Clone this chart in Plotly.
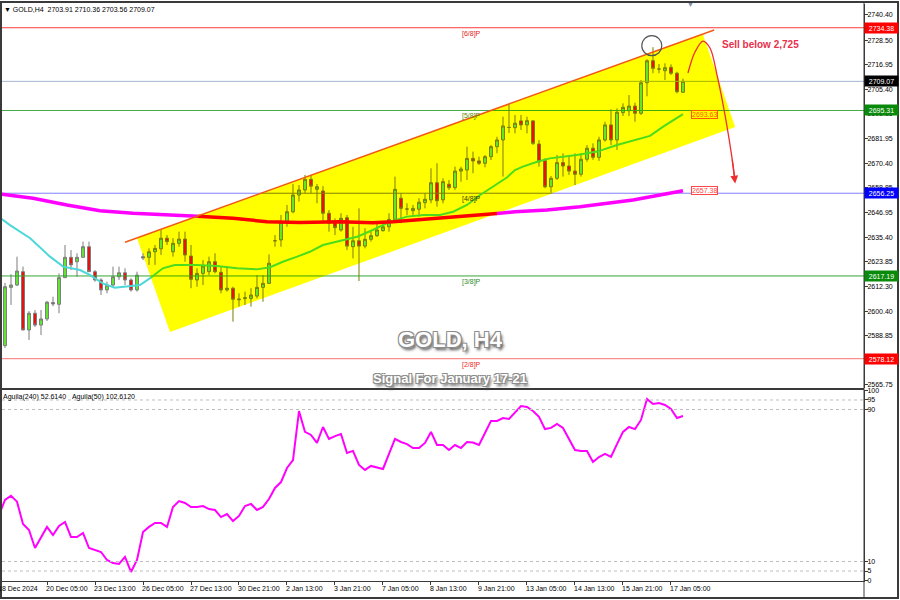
import plotly.graph_objects as go

# ---------------- data ----------------
opens = [2584.3, 2611.8, 2612.9, 2619.2, 2591.7, 2599.6, 2594.0, 2596.9, 2604.6, 2603.8,
         2616.4, 2626.0, 2623.9, 2626.0, 2631.0, 2619.2, 2615.3, 2610.6, 2612.9, 2616.8,
         2618.7, 2615.3, 2610.6, 2626.3, 2626.0, 2628.6, 2630.0, 2635.0, 2628.6, 2632.6,
         2634.6, 2626.6, 2615.3, 2618.4, 2619.2, 2623.9, 2618.9, 2610.6, 2611.4, 2606.3,
         2606.5, 2606.6, 2607.7, 2611.8, 2613.7, 2633.8, 2634.2, 2642.5, 2647.5, 2655.4,
         2657.8, 2662.8, 2658.1, 2657.3, 2646.8, 2642.3, 2638.9, 2644.7, 2631.0, 2633.8,
         2631.3, 2634.5, 2636.2, 2638.6, 2640.4, 2643.9, 2653.9, 2648.8, 2648.0, 2648.7,
         2651.8, 2653.1, 2661.2, 2653.1, 2660.5, 2658.9, 2666.7, 2667.2, 2672.7, 2671.5,
         2670.4, 2673.5, 2678.2, 2681.4, 2687.3, 2687.2, 2690.4, 2688.5, 2690.4, 2679.5,
         2671.6, 2659.3, 2663.3, 2670.7, 2669.1, 2666.7, 2665.2, 2672.3, 2677.5, 2673.2,
         2681.4, 2688.5, 2681.4, 2694.3, 2695.2, 2697.4, 2694.0, 2708.4, 2718.8, 2714.9,
         2714.1, 2715.7, 2712.9, 2703.91]
highs = [2613.9, 2618.0, 2626.3, 2621.6, 2600.6, 2601.1, 2601.1, 2605.4, 2607.4, 2618.4,
         2631.8, 2629.4, 2627.9, 2633.4, 2633.4, 2620.0, 2616.1, 2614.5, 2621.6, 2621.6,
         2620.8, 2616.1, 2619.2, 2627.9, 2630.2, 2631.8, 2638.9, 2636.5, 2635.0, 2638.1,
         2638.1, 2631.8, 2620.8, 2624.7, 2626.3, 2627.9, 2621.6, 2621.9, 2612.1, 2609.0,
         2609.8, 2611.4, 2617.6, 2617.6, 2627.4, 2636.5, 2646.0, 2650.7, 2660.6, 2660.1,
         2664.9, 2664.9, 2660.6, 2659.6, 2648.3, 2644.4, 2646.8, 2646.0, 2640.4, 2649.1,
         2639.7, 2638.1, 2642.8, 2642.8, 2646.8, 2664.1, 2656.2, 2651.5, 2650.7, 2653.9,
         2656.2, 2668.0, 2670.4, 2663.3, 2662.5, 2668.8, 2668.8, 2678.2, 2675.9, 2673.5,
         2674.3, 2679.0, 2682.9, 2692.4, 2698.4, 2693.2, 2693.2, 2692.4, 2690.8, 2681.4,
         2672.7, 2664.4, 2674.3, 2675.1, 2674.3, 2675.1, 2675.1, 2679.0, 2679.8, 2682.9,
         2690.0, 2695.9, 2696.3, 2698.7, 2702.6, 2699.0, 2709.7, 2719.5, 2725.2, 2717.3,
         2717.6, 2717.1, 2713.6, 2710.36]
lows = [2583.2, 2603.5, 2612.4, 2591.5, 2587.0, 2593.1, 2589.3, 2595.9, 2602.9, 2599.6,
        2616.2, 2620.0, 2616.8, 2625.7, 2619.1, 2614.5, 2608.2, 2609.0, 2612.1, 2615.3,
        2612.9, 2609.8, 2609.8, 2624.7, 2622.4, 2622.4, 2627.1, 2631.8, 2626.3, 2631.0,
        2623.9, 2611.4, 2612.1, 2612.9, 2617.6, 2618.4, 2609.0, 2609.8, 2595.6, 2602.7,
        2603.5, 2602.7, 2606.6, 2605.0, 2613.4, 2631.0, 2631.0, 2640.4, 2646.8, 2652.3,
        2656.2, 2656.2, 2651.5, 2642.8, 2638.1, 2636.5, 2638.1, 2629.4, 2625.5, 2614.8,
        2630.2, 2633.4, 2635.7, 2638.1, 2638.1, 2642.8, 2642.1, 2645.9, 2645.9, 2645.2,
        2649.1, 2651.5, 2649.9, 2651.5, 2657.8, 2657.8, 2661.7, 2662.5, 2665.7, 2669.6,
        2668.5, 2671.9, 2675.1, 2664.1, 2684.7, 2684.5, 2686.1, 2684.5, 2679.0, 2668.8,
        2658.6, 2656.5, 2662.5, 2664.1, 2664.9, 2660.1, 2664.1, 2671.1, 2672.0, 2671.5,
        2680.6, 2679.0, 2676.7, 2692.7, 2692.7, 2690.0, 2693.2, 2702.0, 2712.9, 2712.9,
        2709.7, 2712.1, 2703.4, 2703.56]
closes = [2612.1, 2612.9, 2619.5, 2591.7, 2599.6, 2594.0, 2596.9, 2604.8, 2604.0, 2616.4,
          2626.0, 2622.4, 2626.0, 2631.0, 2619.2, 2615.3, 2610.6, 2612.9, 2616.8, 2618.7,
          2615.3, 2610.6, 2617.6, 2625.7, 2628.6, 2630.2, 2635.0, 2633.4, 2632.6, 2634.6,
          2627.1, 2615.6, 2618.4, 2621.9, 2623.9, 2619.2, 2610.6, 2611.4, 2606.2, 2606.0,
          2606.9, 2608.2, 2611.8, 2613.7, 2623.2, 2633.8, 2642.5, 2647.5, 2655.4, 2657.8,
          2662.8, 2659.6, 2659.3, 2646.8, 2642.1, 2640.0, 2644.4, 2631.3, 2633.8, 2631.3,
          2634.5, 2636.2, 2638.9, 2640.4, 2643.9, 2658.1, 2649.1, 2648.8, 2649.1, 2652.0,
          2653.4, 2661.2, 2652.7, 2661.7, 2658.9, 2666.7, 2667.7, 2672.7, 2671.5, 2670.4,
          2673.5, 2678.2, 2681.4, 2688.0, 2687.3, 2689.3, 2688.5, 2690.5, 2679.8, 2671.1,
          2659.3, 2663.3, 2670.7, 2669.1, 2666.7, 2665.2, 2672.3, 2677.5, 2673.2, 2681.4,
          2688.5, 2681.4, 2694.5, 2696.8, 2697.4, 2694.0, 2708.4, 2718.8, 2715.2, 2714.9,
          2715.5, 2712.9, 2704.2, 2709.07]
bar_idx = list(range(len(opens)))

header_text = "\u25bc GOLD,H4\u00a0\u00a02703.91 2710.36 2703.56 2709.07"

# short moving average (cyan / green inside the channel)
ma_idx = [-0.83, 0.83, 4.2, 7.5, 9.7, 12.5, 14.2, 16.3, 18.3, 20.3, 22.5, 24.5, 26.3, 28.3,
          32.0, 35.3, 38.7, 42.0, 44.2, 46.3, 48.7, 50.8, 53.0, 55.3, 58.7, 61.3, 64.2, 67.0,
          69.7, 72.5, 74.7, 77.0, 79.2, 81.3, 83.7, 85.0, 86.3, 88.7, 90.8, 95.3, 98.7, 102.0,
          105.3, 107.5, 109.7, 112.0, 113.0]
ma_vals = [2644.6, 2641.2, 2635.0, 2626.3, 2621.6, 2620.0, 2617.6, 2613.7, 2611.6, 2612.1,
           2612.9, 2616.8, 2620.8, 2622.4, 2622.4, 2621.9, 2620.8, 2620.3, 2621.3, 2623.9,
           2626.3, 2628.6, 2631.8, 2633.4, 2635.7, 2638.9, 2642.8, 2645.2, 2646.0, 2646.0,
           2647.5, 2650.7, 2655.4, 2659.3, 2663.8, 2667.2, 2668.8, 2671.1, 2672.7, 2674.3,
           2675.9, 2679.0, 2681.4, 2683.3, 2687.7, 2691.6, 2693.63]
ma_last_label = "2693.63"

# long moving average (magenta / red inside the channel)
ema_idx = [-0.83, 4.67, 10.33, 15.83, 21.33, 27.0, 31.33, 38.0, 43.67, 49.17, 55.83, 61.33,
           64.67, 69.67, 75.33, 80.83, 85.0, 90.33, 95.83, 104.67, 113.0]
ema_vals = [2655.9, 2653.9, 2650.7, 2648.0, 2646.8, 2646.0, 2645.5, 2644.4, 2642.8, 2642.4,
            2642.8, 2642.3, 2642.8, 2643.9, 2645.2, 2646.4, 2647.5, 2648.3, 2649.9, 2653.1,
            2657.38]
ema_last_label = "2657.38"

# oscillator pane (starts one bar before the first candle)
ind_start = -1
ind_vals = [34.5, 42.4, 44.6, 41.5, 29.7, 26.6, 17.1, 22.9, 28.2, 23.9,
            28.7, 30.8, 22.9, 22.9, 25.0, 17.1, 16.0, 15.0, 10.8, 9.2,
            8.7, 12.4, 4.5, 10.8, 25.5, 28.2, 30.3, 30.3, 28.2, 38.7,
            41.8, 40.8, 38.7, 38.7, 39.2, 37.6, 37.1, 33.4, 35.0, 31.3,
            34.0, 39.2, 40.3, 37.1, 38.7, 42.9, 48.7, 51.8, 59.2, 63.4,
            89.2, 78.2, 76.6, 72.4, 80.8, 74.5, 76.0, 77.1, 67.1, 68.2,
            60.8, 58.2, 60.3, 59.7, 58.7, 66.6, 74.5, 72.9, 71.8, 69.7,
            69.7, 72.4, 78.2, 71.3, 71.3, 68.7, 71.3, 69.7, 72.9, 72.6,
            71.3, 77.6, 84.0, 84.0, 85.5, 85.0, 88.2, 91.8, 91.3, 89.2,
            86.1, 79.7, 80.3, 82.4, 80.3, 74.5, 68.7, 68.2, 68.2, 62.4,
            65.0, 66.6, 65.0, 71.8, 78.2, 80.8, 79.7, 84.5, 95.5, 92.9,
            93.4, 92.4, 90.3, 85.5, 86.6]
ind_label = "Aguila(240) 52.6140\u00a0\u00a0\u00a0Aguila(50) 102.6120"
ind_levels = [95, 90, 10, 5]
ind_ticks = [100, 95, 90, 10, 5, 0]

# horizontal price levels
level_prices = [2734.38, 2709.07, 2695.31, 2656.25, 2617.19, 2578.12]
level_line_colors = ['#ff3c3c', '#a3b5d0', '#42ac42', '#8080ff', '#35a535', '#ff7070']
level_tag_colors = ['#ff0000', '#000000', '#0a8a0a', '#0000ff', '#0a8a0a', '#ff0000']

murrey_labels = ['[6/8]P', '[5/8]P', '[4/8]P', '[3/8]P', '[2/8]P']
murrey_prices = [2734.38, 2695.31, 2656.25, 2617.19, 2578.12]
murrey_colors = ['#e81c1c', '#5c8c00', '#3a3a00', '#2a8c2a', '#f02828']

price_ticks = [2740.40, 2728.50, 2716.95, 2705.40, 2693.85, 2681.95, 2670.40, 2658.85,
               2646.95, 2635.40, 2623.85, 2612.30, 2600.40, 2588.85, 2577.30, 2565.75]

date_tick_idx = [-1, 7, 15, 23, 31, 39, 47, 55, 63, 71, 79, 87, 95, 103, 111]
date_tick_text = ["18 Dec 2024", "20 Dec 05:00", "23 Dec 13:00", "26 Dec 05:00",
                  "27 Dec 13:00", "30 Dec 21:00", "2 Jan 13:00", "3 Jan 21:00",
                  "7 Jan 05:00", "8 Jan 13:00", "9 Jan 21:00", "13 Jan 05:00",
                  "14 Jan 13:00", "15 Jan 21:00", "17 Jan 05:00"]

# drawn objects (in bar-index / price coordinates)
channel_x = [22.0, 116.3, 121.7, 27.5]
channel_y = [2635.1, 2731.4, 2687.5, 2590.7]
channel_line_x = [20.0, 118.2]
channel_line_y = [2633.1, 2733.3]
arrow_x = [113.83, 115.0, 116.33, 117.5, 118.67, 120.0, 121.17, 121.6]
arrow_y = [2713.0, 2722.9, 2728.1, 2724.8, 2712.1, 2693.2, 2672.9, 2664.0]
arrow_tip = (121.7, 2660.8)
touch_x, touch_y = 107.8, 2725.9
sell_text = "Sell below 2,725"
sell_pos = (119.2, 2726.7)
title_text = "GOLD, H4"
title_pos = (74.3, 2587.0)
subtitle_text = "Signal For January 17-21"
subtitle_pos = (74.2, 2569.0)
murrey_label_idx = 77.7
ma_label_idx = 114.3

# ---------------- geometry helpers ----------------
X0, X1 = -0.5, 143.17
P_BOT, P_TOP = 2564.29, 2745.59
I_BOT, I_TOP = -0.26, 100.26
PLOT_L, PLOT_R, PLOT_T, PLOT_B = 2, 864, 4, 581
W, H = PLOT_R - PLOT_L, PLOT_B - PLOT_T
PX_PER_PRICE = 2.118
MAIN_BOTTOM_PX = 388
IND_TOP_PX = 390


def pxx(px):
    return (px - PLOT_L) / W


def pxy(py):
    return (PLOT_B - py) / H


def idx_to_paper(i):
    return (i - X0) / (X1 - X0)


poly = list(zip(channel_x, channel_y))


def orientation(pg):
    a = 0.0
    for k in range(len(pg)):
        x1, y1 = pg[k]
        x2, y2 = pg[(k + 1) % len(pg)]
        a += x1 * y2 - x2 * y1
    return 1 if a > 0 else -1


SGN = orientation(poly)


def inside(x, y):
    for k in range(len(poly)):
        ax, ay = poly[k]
        bx, by = poly[(k + 1) % len(poly)]
        if SGN * ((bx - ax) * (y - ay) - (by - ay) * (x - ax)) < 0:
            return False
    return True


def clip(p0, p1):
    t0, t1 = 0.0, 1.0
    dx, dy = p1[0] - p0[0], p1[1] - p0[1]
    for k in range(len(poly)):
        ax, ay = poly[k]
        bx, by = poly[(k + 1) % len(poly)]
        ex, ey = bx - ax, by - ay
        num = SGN * (ex * (p0[1] - ay) - ey * (p0[0] - ax))
        den = SGN * (ex * dy - ey * dx)
        if den == 0:
            if num < 0:
                return None
        else:
            t = -num / den
            if den > 0:
                t0 = max(t0, t)
            else:
                t1 = min(t1, t)
    if t0 >= t1:
        return None
    return t0, t1


def split_line(xs, ys):
    runs = {True: ([], []), False: ([], [])}

    def push(flag, a, b):
        rx, ry = runs[flag]
        if rx and rx[-1] is not None and rx[-1] == a[0] and ry[-1] == a[1]:
            rx.append(b[0]); ry.append(b[1])
        else:
            if rx:
                rx.append(None); ry.append(None)
            rx.extend([a[0], b[0]]); ry.extend([a[1], b[1]])

    for k in range(len(xs) - 1):
        p0, p1 = (xs[k], ys[k]), (xs[k + 1], ys[k + 1])

        def pt(t):
            if t <= 0:
                return p0
            if t >= 1:
                return p1
            return (p0[0] + (p1[0] - p0[0]) * t, p0[1] + (p1[1] - p0[1]) * t)

        r = clip(p0, p1)
        if r is None:
            push(False, p0, p1)
        else:
            t0, t1 = r
            if t0 > 0:
                push(False, p0, pt(t0))
            push(True, pt(t0), pt(t1))
            if t1 < 1:
                push(False, pt(t1), p1)
    return runs[True], runs[False]


def on_yellow(hexcol):
    # MT4 draws objects with AND blending on the yellow fill -> blue channel removed
    r, g = int(hexcol[1:3], 16), int(hexcol[3:5], 16)
    return '#%02x%02x00' % (r, g)


FONT = "Liberation Sans, Arial, sans-serif"
fig = go.Figure()

# horizontal levels
for lv, col in zip(level_prices, level_line_colors):
    (ix, iy), (ox, oy) = split_line([X0, X1], [lv, lv])
    fig.add_trace(go.Scatter(x=ox, y=oy, mode='lines', line=dict(color=col, width=1),
                             hoverinfo='skip'))
    if ix:
        fig.add_trace(go.Scatter(x=ix, y=iy, mode='lines',
                                 line=dict(color=on_yellow(col), width=1), hoverinfo='skip'))

# candles (wick colour changes on the yellow fill)
for flag, wick in [(False, '#7c7c7c'), (True, '#7c7c00')]:
    sel = [i for i in bar_idx if inside(i, (opens[i] + closes[i]) / 2) == flag]
    fig.add_trace(go.Candlestick(
        x=sel, open=[opens[i] for i in sel], high=[highs[i] for i in sel],
        low=[lows[i] for i in sel], close=[closes[i] for i in sel],
        increasing=dict(line=dict(color=wick, width=1), fillcolor='#5fe830'),
        decreasing=dict(line=dict(color=wick, width=1), fillcolor='#ea1010'),
        whiskerwidth=0, hoverinfo='skip'))

# moving averages
for xs, ys, out_col, in_col, w in [(ma_idx, ma_vals, '#4cd8d8', '#4cdc1c', 2),
                                   (ema_idx, ema_vals, '#ff00ff', '#ff0000', 3.5)]:
    (ix, iy), (ox, oy) = split_line(xs, ys)
    fig.add_trace(go.Scatter(x=ox, y=oy, mode='lines', line=dict(color=out_col, width=w),
                             hoverinfo='skip'))
    fig.add_trace(go.Scatter(x=ix, y=iy, mode='lines', line=dict(color=in_col, width=w),
                             hoverinfo='skip'))

# channel upper border
fig.add_trace(go.Scatter(x=channel_line_x, y=channel_line_y, mode='lines',
                         line=dict(color='#f25a14', width=1.5), hoverinfo='skip'))

# projected path arrow
fig.add_trace(go.Scatter(x=arrow_x, y=arrow_y, mode='lines',
                         line=dict(color='#ee2e2e', width=1.3, shape='spline', smoothing=1.0),
                         hoverinfo='skip'))

# oscillator
fig.add_trace(go.Scatter(x=list(range(ind_start, ind_start + len(ind_vals))), y=ind_vals,
                         yaxis='y2', mode='lines', line=dict(color='#ff00ff', width=2),
                         hoverinfo='skip'))

shapes = []
path = 'M ' + ' L '.join('%s,%s' % (x, y) for x, y in zip(channel_x, channel_y)) + ' Z'
shapes.append(dict(type='path', xref='x', yref='y', path=path, fillcolor='#ffff00',
                   line=dict(width=0), layer='below'))
for lv in ind_levels:
    shapes.append(dict(type='line', xref='paper', yref='y2', x0=0, x1=1, y0=lv, y1=lv,
                       line=dict(color='#bdbdbd', width=1, dash='dot')))
rx, ry = 10 / 6.0, 10 / PX_PER_PRICE
shapes.append(dict(type='circle', xref='x', yref='y', x0=touch_x - rx, x1=touch_x + rx,
                   y0=touch_y - ry, y1=touch_y + ry, line=dict(color='#555555', width=1.2)))
shapes.append(dict(type='rect', xref='paper', yref='paper', x0=pxx(0), x1=1,
                   y0=pxy(IND_TOP_PX), y1=pxy(MAIN_BOTTOM_PX), fillcolor='#3a3a3a',
                   line=dict(width=0)))
shapes.append(dict(type='rect', xref='paper', yref='paper', x0=pxx(1), x1=pxx(898),
                   y0=pxy(598), y1=pxy(2), line=dict(color='#3a3a3a', width=2)))
shapes.append(dict(type='line', xref='paper', yref='paper', x0=pxx(864), x1=pxx(864),
                   y0=pxy(598), y1=pxy(2), line=dict(color='#3a3a3a', width=1)))

ann = []
small = dict(family=FONT, size=7, color='#000000')
ann.append(dict(text=header_text, xref='paper', yref='paper', x=pxx(2), y=pxy(9.5),
                xanchor='left', yanchor='middle', showarrow=False, font=small))
ann.append(dict(text=ind_label, xref='paper', yref='paper', x=pxx(1), y=pxy(396.5),
                xanchor='left', yanchor='middle', showarrow=False, font=small))
for i, t in zip(date_tick_idx, date_tick_text):
    ann.append(dict(text=t, xref='paper', yref='paper', x=idx_to_paper(i), y=pxy(588.5),
                    xanchor='left', yanchor='middle', xshift=-3, showarrow=False, font=small))
for lv, col in zip(level_prices, level_tag_colors):
    ann.append(dict(text='%.2f' % lv, xref='paper', yref='y', x=1, y=lv, xanchor='left',
                    yanchor='middle', showarrow=False, bgcolor=col, borderpad=1, width=31,
                    height=8, font=dict(family=FONT, size=7, color='#ffffff')))
for name, lv, col in zip(murrey_labels, murrey_prices, murrey_colors):
    ann.append(dict(text=name, xref='x', yref='y', x=murrey_label_idx, y=lv, xanchor='center',
                    yanchor='top', yshift=-1, showarrow=False, borderpad=0,
                    font=dict(family=FONT, size=7, color=col)))
# price labels of the two moving averages (white label, AND-blended on the yellow fill)
for txt, val, col in [(ma_last_label, ma_vals[-1], '#ff5a00'),
                      (ema_last_label, ema_vals[-1], '#ff4646')]:
    bg = on_yellow('#ffffff') if inside(ma_label_idx + 2, val) else '#ffffff'
    ann.append(dict(text=txt, xref='x', yref='y', x=ma_label_idx, y=val,
                    xanchor='left', yanchor='middle', showarrow=False, bgcolor=bg,
                    bordercolor=col, borderwidth=1, borderpad=0,
                    font=dict(family=FONT, size=7, color=col)))
ann.append(dict(text='<b>%s</b>' % sell_text, xref='x', yref='y', x=sell_pos[0], y=sell_pos[1],
                xanchor='left', yanchor='middle', showarrow=False,
                font=dict(family=FONT, size=10, color='#e8304c')))
ann.append(dict(text='', xref='x', yref='y', axref='x', ayref='y', x=arrow_tip[0],
                y=arrow_tip[1], ax=arrow_x[-2], ay=arrow_y[-2], showarrow=True, arrowhead=2,
                arrowsize=1.2, arrowwidth=1.3, arrowcolor='#ee2e2e', standoff=0))
shadow = ('-1px -1px 0 #8c8c8c, 1px -1px 0 #8c8c8c, -1px 1px 0 #8c8c8c, '
          '1px 1px 0 #8c8c8c, 2px 3px 3px #505050')
ann.append(dict(text='<b>%s</b>' % title_text, xref='x', yref='y', x=title_pos[0],
                y=title_pos[1], xanchor='center', yanchor='middle', showarrow=False,
                font=dict(family=FONT, size=22, color='#ffffff', shadow=shadow)))
ann.append(dict(text='<b>%s</b>' % subtitle_text, xref='x', yref='y', x=subtitle_pos[0],
                y=subtitle_pos[1], xanchor='center', yanchor='middle', showarrow=False,
                font=dict(family=FONT, size=13, color='#ffffff', shadow=shadow)))
ann.append(dict(text='\u25bc', xref='paper', yref='paper', x=pxx(690), y=pxy(4),
                xanchor='center', yanchor='middle', showarrow=False,
                font=dict(family=FONT, size=7, color='#7d8fb0')))

axis_common = dict(showgrid=False, zeroline=False, showline=True, linecolor='#3a3a3a',
                   linewidth=1, ticks='outside', ticklen=3, tickcolor='#3a3a3a',
                   tickfont=dict(family=FONT, size=7, color='#000000'), fixedrange=True,
                   automargin=False)
fig.update_layout(
    template='none',
    width=900, height=600,
    margin=dict(l=PLOT_L, r=900 - PLOT_R, t=PLOT_T, b=600 - PLOT_B, pad=0, autoexpand=False),
    paper_bgcolor='#ffffff', plot_bgcolor='#ffffff', showlegend=False,
    font=dict(family=FONT, size=7, color='#000000'),
    xaxis=dict(domain=[0, 1], range=[X0, X1], anchor='y2', tickvals=date_tick_idx,
               showticklabels=False, rangeslider=dict(visible=False), **axis_common),
    yaxis=dict(domain=[pxy(MAIN_BOTTOM_PX), 1], range=[P_BOT, P_TOP], side='right',
               anchor='x', tickvals=price_ticks, ticktext=['%.2f' % v for v in price_ticks],
               ticklabelstandoff=-2, **axis_common),
    yaxis2=dict(domain=[0, pxy(IND_TOP_PX)], range=[I_BOT, I_TOP], side='right',
                anchor='x', tickvals=ind_ticks, ticktext=[str(v) for v in ind_ticks],
                ticklabelstandoff=-2, **axis_common),
    shapes=shapes, annotations=ann,
)

# the page's default 8px body margin would shift the whole chart; remove it
fig.write_html("out.html", config={'displayModeBar': False},
               post_script="document.body.style.margin='0';document.body.style.overflow='hidden';")
